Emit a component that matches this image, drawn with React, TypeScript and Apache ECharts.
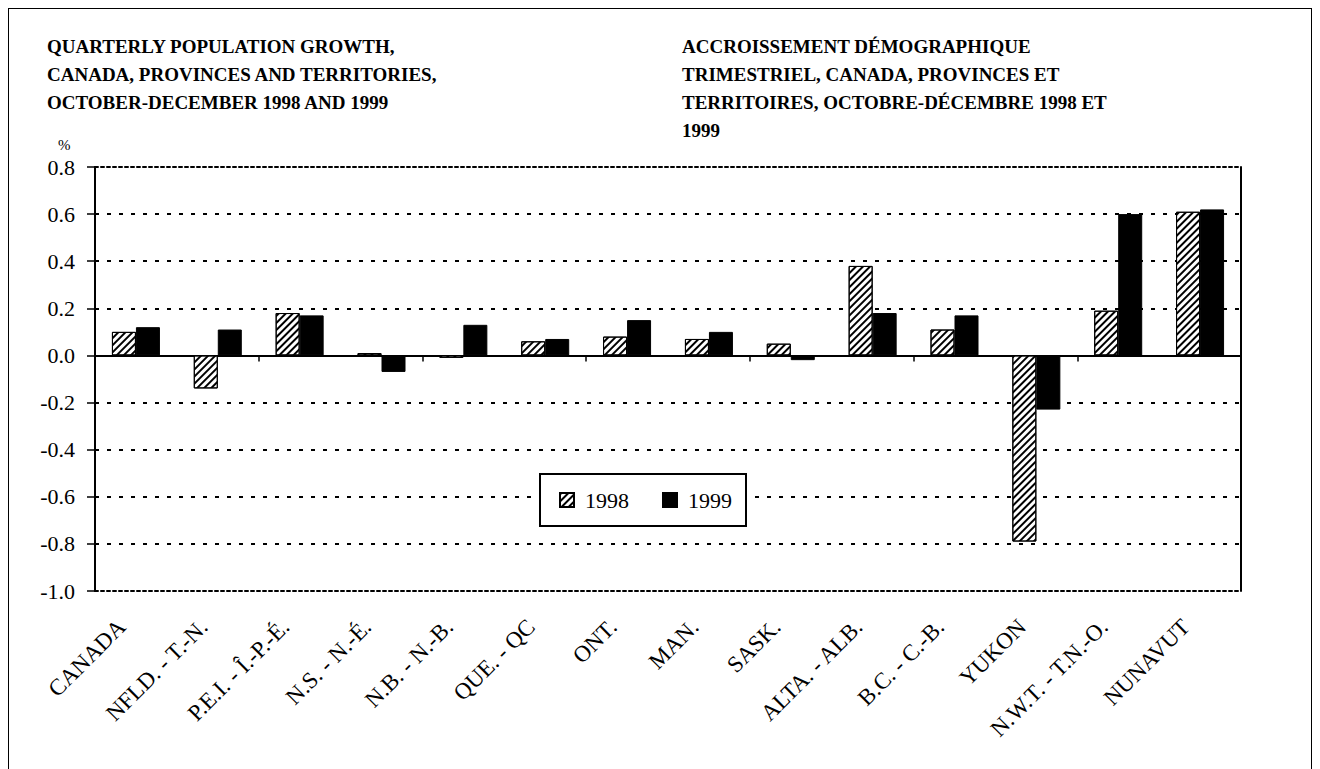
import React, { useEffect, useRef } from "react";
import * as echarts from "echarts";

const categories = [
  "CANADA",
  "NFLD. - T.-N.",
  "P.E.I. - Î.-P.-É.",
  "N.S. - N.-É.",
  "N.B. - N.-B.",
  "QUE. - QC",
  "ONT.",
  "MAN.",
  "SASK.",
  "ALTA. - ALB.",
  "B.C. - C.-B.",
  "YUKON",
  "N.W.T. - T.N.-O.",
  "NUNAVUT",
];
const seriesNames = ["1998", "1999"];
const values1998 = [0.1, -0.14, 0.18, 0.01, -0.01, 0.06, 0.08, 0.07, 0.05, 0.38, 0.11, -0.79, 0.19, 0.61];
const values1999 = [0.12, 0.11, 0.17, -0.07, 0.13, 0.07, 0.15, 0.1, -0.02, 0.18, 0.17, -0.23, 0.6, 0.62];
const titleEn = "QUARTERLY POPULATION GROWTH,\nCANADA, PROVINCES AND TERRITORIES,\nOCTOBER-DECEMBER 1998 AND 1999";
const titleFr = "ACCROISSEMENT DÉMOGRAPHIQUE\nTRIMESTRIEL, CANADA, PROVINCES ET\nTERRITOIRES, OCTOBRE-DÉCEMBRE 1998 ET\n1999";
const unitLabel = "%";

const FONT = "Liberation Serif";

export default function App() {
  const ref = useRef<HTMLDivElement>(null);
  useEffect(() => {
    if (!ref.current) return;
    const chart = echarts.init(ref.current, undefined, { renderer: "svg" });
    const dashedBorder = { show: true, lineStyle: { color: "#000", width: 2, type: [3, 3] as any } };
    chart.setOption({
      animation: false,
      backgroundColor: "#fff",
      textStyle: { fontFamily: FONT, color: "#000" },
      title: [
        {
          text: titleEn,
          left: 38,
          top: 23,
          padding: 0,
          textStyle: { fontFamily: FONT, fontSize: 19, fontWeight: "bold", lineHeight: 28, color: "#000" },
        },
        {
          text: titleFr,
          left: 673,
          top: 23,
          padding: 0,
          textStyle: { fontFamily: FONT, fontSize: 19, fontWeight: "bold", lineHeight: 28, color: "#000" },
        },
      ],
      graphic: [
        {
          type: "text",
          left: 49,
          top: 128,
          style: { text: unitLabel, fontFamily: FONT, fontSize: 15, fill: "#000" },
        },
      ],
      legend: {
        data: seriesNames,
        left: 531,
        top: 465,
        orient: "horizontal",
        icon: "rect",
        itemWidth: 14,
        itemHeight: 14,
        itemGap: 33,
        padding: [15, 14, 15, 19],
        borderColor: "#000",
        borderWidth: 2,
        backgroundColor: "#fff",
        textStyle: { fontFamily: FONT, fontSize: 22, color: "#000", padding: [0, 0, 0, 6] },
      },
      grid: { left: 86, top: 158, width: 1146, height: 424, containLabel: false },
      xAxis: [
        {
          type: "category",
          data: categories,
          position: "bottom",
          axisLine: { onZero: true, lineStyle: { color: "#000", width: 2 } },
          axisTick: { show: true, length: 6, lineStyle: { color: "#000", width: 1.5 } },
          axisLabel: { show: false },
          splitLine: { show: false },
        },
        {
          type: "category",
          data: categories,
          position: "bottom",
          axisLine: { onZero: false, ...dashedBorder },
          axisTick: { show: false },
          axisLabel: {
            show: true,
            rotate: 45,
            margin: 18,
            padding: [0, 20, 0, 0],
            fontFamily: FONT,
            fontSize: 23,
            color: "#000",
            interval: 0,
          },
          splitLine: { show: false },
        },
        {
          type: "category",
          data: categories,
          position: "top",
          axisLine: { onZero: false, ...dashedBorder },
          axisTick: { show: false },
          axisLabel: { show: false },
          splitLine: { show: false },
        },
      ],
      yAxis: [
        {
          type: "value",
          position: "left",
          min: -1,
          max: 0.8,
          interval: 0.2,
          axisLine: { show: true, onZero: false, lineStyle: { color: "#000", width: 2 } },
          axisTick: { show: true, inside: false, length: 8, lineStyle: { color: "#000", width: 1.5 } },
          axisLabel: {
            margin: 20,
            fontFamily: FONT,
            fontSize: 22,
            color: "#000",
            formatter: (v: number) => v.toFixed(1),
          },
          splitLine: {
            show: true,
            showMinLine: false,
            showMaxLine: false,
            lineStyle: { color: "#000", width: 2, type: [4, 8] as any },
          },
        },
        {
          type: "value",
          position: "right",
          min: -1,
          max: 0.8,
          interval: 0.2,
          axisLine: { show: true, onZero: false, lineStyle: { color: "#000", width: 2 } },
          axisTick: { show: false },
          axisLabel: { show: false },
          splitLine: { show: false },
        },
      ],
      series: [
        {
          name: seriesNames[0],
          type: "bar",
          xAxisIndex: 0,
          yAxisIndex: 0,
          data: values1998,
          barWidth: 24,
          barGap: "0%",
          itemStyle: {
            color: "#fff",
            borderColor: "#000",
            borderWidth: 1,
            decal: {
              symbol: "rect",
              symbolSize: 1,
              color: "#000",
              dashArrayX: [1, 0],
              dashArrayY: [1.5, 3],
              rotation: -Math.PI / 4,
            },
          },
        },
        {
          name: seriesNames[1],
          type: "bar",
          xAxisIndex: 0,
          yAxisIndex: 0,
          data: values1999,
          barWidth: 24,
          barGap: "0%",
          itemStyle: { color: "#000", borderColor: "#000", borderWidth: 1 },
        },
      ],
    });
    return () => chart.dispose();
  }, []);

  return (
    <div
      style={{
        position: "fixed",
        left: 8,
        top: 8,
        width: 1302,
        height: 800,
        border: "1px solid #000",
        background: "#fff",
      }}
    >
      <div ref={ref} style={{ width: 1302, height: 800 }} />
    </div>
  );
}
